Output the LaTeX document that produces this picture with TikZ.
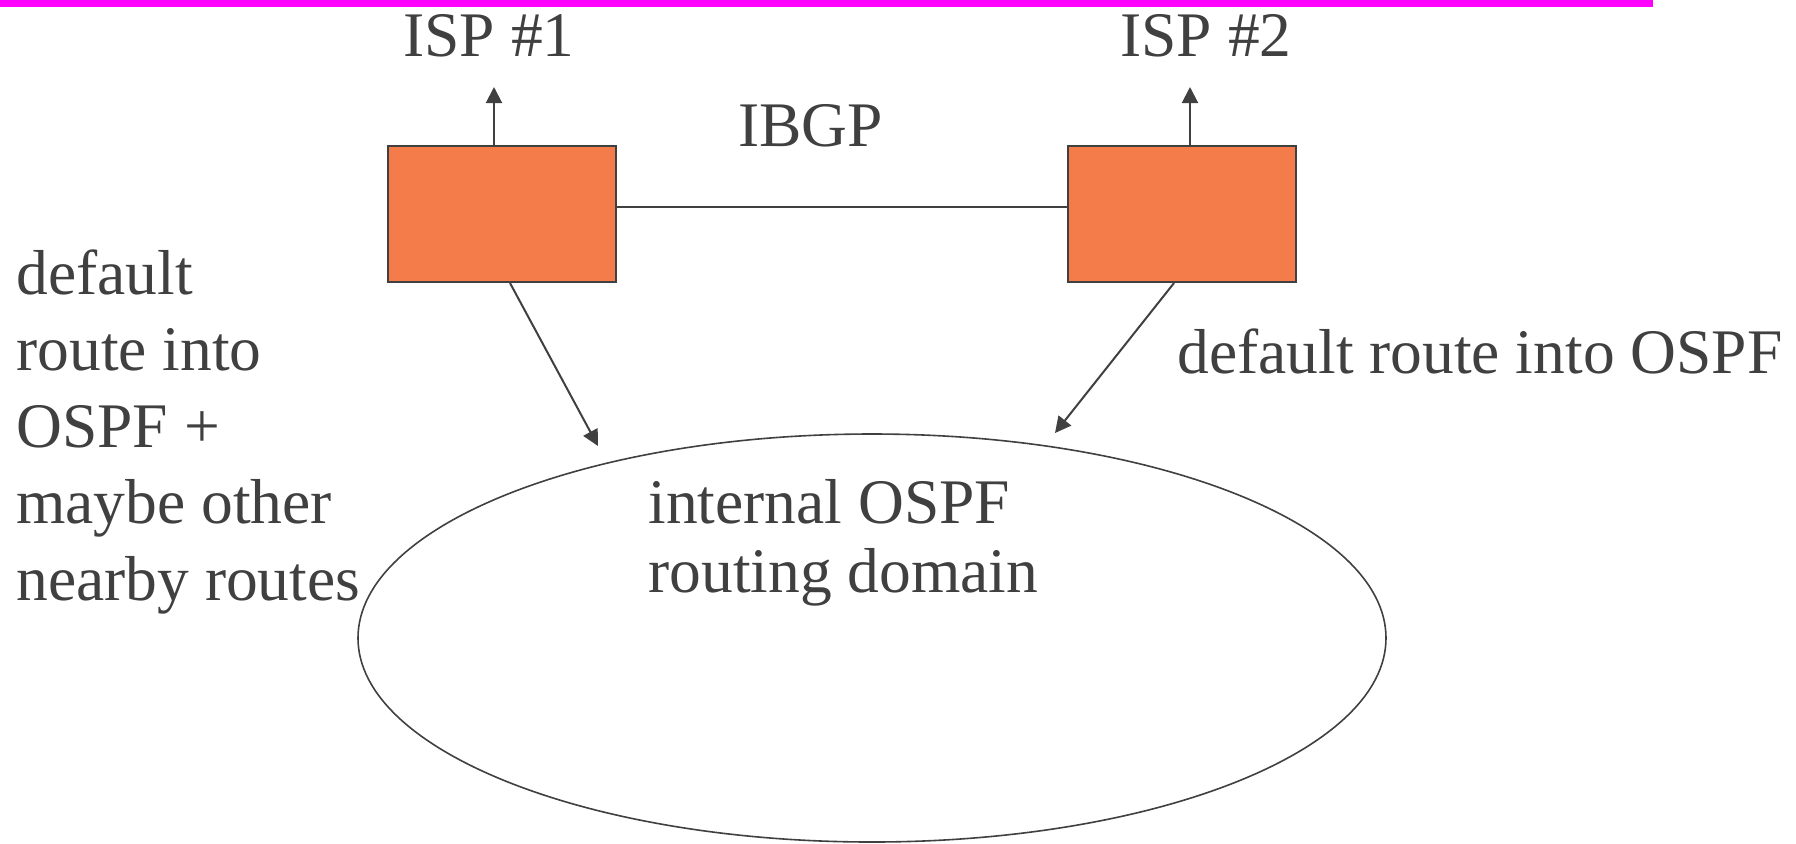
\documentclass[tikz,border=0pt]{standalone}
\usepackage{fontspec}
\setmainfont{Liberation Serif}
\usetikzlibrary{arrows.meta,shapes.geometric}
\definecolor{ink}{HTML}{404040}
\definecolor{router}{HTML}{F47C4A}
\definecolor{banner}{HTML}{FF00FF}
\newcommand{\labelfont}{\fontsize{31.75}{38.25}\selectfont}
\newcommand{\domainfont}{\fontsize{31.75}{34.5}\selectfont}
\tikzset{
  routerbox/.style={draw=ink, fill=router, line width=1pt, rectangle,
    minimum width=114pt, minimum height=68pt, inner sep=0pt},
  ospfarea/.style={draw=ink, ellipse, line width=0.8pt,
    minimum width=514pt, minimum height=204pt, inner sep=0pt},
  lbl/.style={text=ink, font=\labelfont, inner sep=0pt},
  link/.style={draw=ink, line width=1pt},
  feed/.style={draw=ink, line width=1pt, -{Triangle[length=8pt,width=8pt]}}
}
\begin{document}
\begin{tikzpicture}[x=0.5pt, y=-0.5pt]
  \useasboundingbox (0,0) rectangle (1796,843);
  \fill[banner] (0,0) rectangle (1653,7);

  % two border routers and the OSPF domain
  \node[routerbox] (r1) at (502,214) {};
  \node[routerbox] (r2) at (1182,214) {};
  \node[ospfarea] (dom) at (872,638) {};

  % connector end points
  \coordinate (up1) at (494,87);
  \coordinate (up2) at (1190,87);
  \coordinate (in1) at (598,446);
  \coordinate (in2) at (1055,433);
  \coordinate (ibgpy) at (0,207);

  % labels
  \node[lbl, anchor=base] (isp1) at (489,56) {ISP \#1};
  \node[lbl, anchor=base] (isp2) at (1206,56) {ISP \#2};
  \node[lbl, anchor=base west] (ibgp) at (738,146) {IBGP};
  \node[lbl, anchor=base west] (left) at (16,294)
    {\begin{tabular}[t]{@{}l@{}}default\\route into\\OSPF +\\maybe other\\nearby routes\end{tabular}};
  \node[lbl, anchor=base west] (right) at (1177,373) {default route into OSPF};
  \node[lbl, anchor=base west, font=\domainfont] (inner) at (648,523)
    {\begin{tabular}[t]{@{}l@{}}internal OSPF\\routing domain\end{tabular}};

  % connectors
  \draw[link] (r1.east |- ibgpy) -- (r2.west |- ibgpy);
  \draw[feed] (up1 |- r1.north) -- (up1);
  \draw[feed] (up2 |- r2.north) -- (up2);
  \draw[feed] (r1.south -| 510,0) -- (in1);
  \draw[feed] (r2.south -| 1174,0) -- (in2);
\end{tikzpicture}
\end{document}
